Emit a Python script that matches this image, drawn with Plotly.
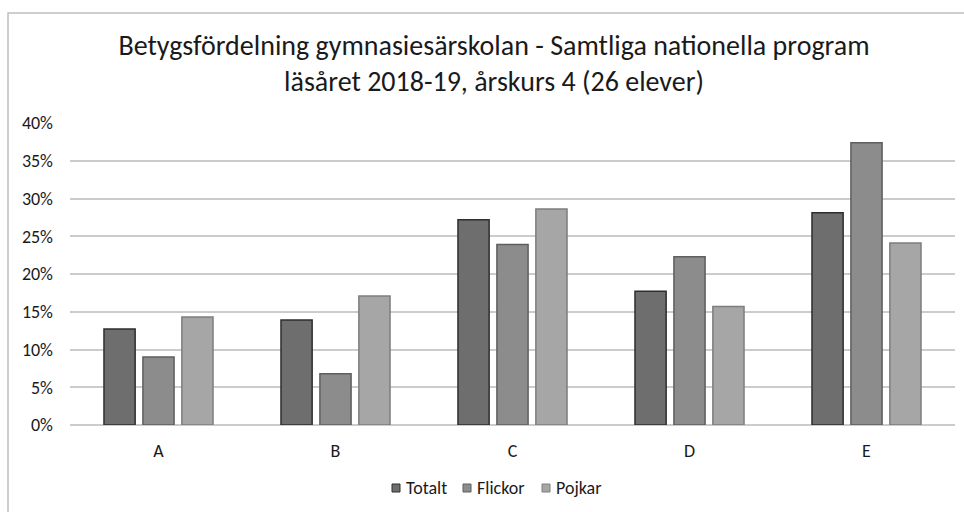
import plotly.graph_objects as go

categories = ["A", "B", "C", "D", "E"]
totalt = [0.127, 0.139, 0.272, 0.177, 0.281]
flickor = [0.090, 0.068, 0.239, 0.223, 0.374]
pojkar = [0.143, 0.171, 0.286, 0.157, 0.241]
series_names = ["Totalt", "Flickor", "Pojkar"]
title_lines = ["Betygsfördelning gymnasiesärskolan - Samtliga nationella program",
               "läsåret 2018-19, årskurs 4 (26 elever)"]

fill_colors = ["#6e6e6e", "#8c8c8c", "#a6a6a6"]
line_colors = ["#2e2e2e", "#5e5e5e", "#7e7e7e"]
FONT = "Carlito, Calibri, 'Open Sans', sans-serif"

fig = go.Figure()
for name, vals, fc, lc in zip(series_names, [totalt, flickor, pojkar], fill_colors, line_colors):
    fig.add_trace(go.Bar(
        x=categories, y=vals, name=name, showlegend=False,
        marker=dict(color=fc, line=dict(color=lc, width=1.5)),
    ))

W, H = 964, 512
ml, mr, mt, mb = 70, 9, 123, 87
pw, ph = W - ml - mr, H - mt - mb

def px_to_paper_x(px):
    return (px - ml) / pw

def px_to_paper_y(py):
    return (H - mb - py) / ph

# custom compact legend (square swatch + label), as in the reference
legend_x = [392, 463, 542]
legend_y = 488
shapes = [dict(type="rect", xref="paper", yref="paper",
               x0=px_to_paper_x(8), x1=px_to_paper_x(985),
               y0=px_to_paper_y(530), y1=px_to_paper_y(13),
               line=dict(color="#bfbfbf", width=1.5), fillcolor="rgba(0,0,0,0)", layer="below")]
annotations = []
for lx, name, fc, lc in zip(legend_x, series_names, fill_colors, line_colors):
    shapes.append(dict(type="rect", xref="paper", yref="paper",
                       x0=px_to_paper_x(lx), x1=px_to_paper_x(lx + 8),
                       y0=px_to_paper_y(legend_y + 4), y1=px_to_paper_y(legend_y - 4),
                       fillcolor=fc, line=dict(color=lc, width=1)))
    annotations.append(dict(text=name, xref="paper", yref="paper",
                            x=px_to_paper_x(lx + 12), y=px_to_paper_y(legend_y),
                            xanchor="left", yanchor="middle", showarrow=False,
                            font=dict(size=18, color="#1a1a1a")))

fig.update_layout(
    width=W, height=H,
    margin=dict(l=ml, r=mr, t=mt, b=mb),
    paper_bgcolor="white", plot_bgcolor="white",
    barmode="group", bargap=0.34, bargroupgap=0.2,
    font=dict(family=FONT, size=16, color="#222222"),
    title=dict(
        text="<br>".join(title_lines),
        x=494 / W, xanchor="center", xref="container",
        y=1 - 55 / H, yanchor="middle", yref="container",
        font=dict(family=FONT, size=28, color="#1a1a1a"),
    ),
    xaxis=dict(showgrid=False, showline=False, ticks="", ticklabelstandoff=13,
               tickfont=dict(family=FONT, size=18, color="#1a1a1a")),
    yaxis=dict(range=[0, 0.4], dtick=0.05, tickformat=".0%",
               showgrid=True, gridcolor="#cccccc", gridwidth=1.5,
               zeroline=True, zerolinecolor="#cccccc", zerolinewidth=1.5,
               showline=False, ticks="", ticklabelstandoff=16,
               tickfont=dict(family=FONT, size=18, color="#1a1a1a")),
    showlegend=False,
    shapes=shapes,
    annotations=annotations,
)

fig.write_html("out.html", post_script="document.body.style.margin='0';",
               config={"displayModeBar": False})
